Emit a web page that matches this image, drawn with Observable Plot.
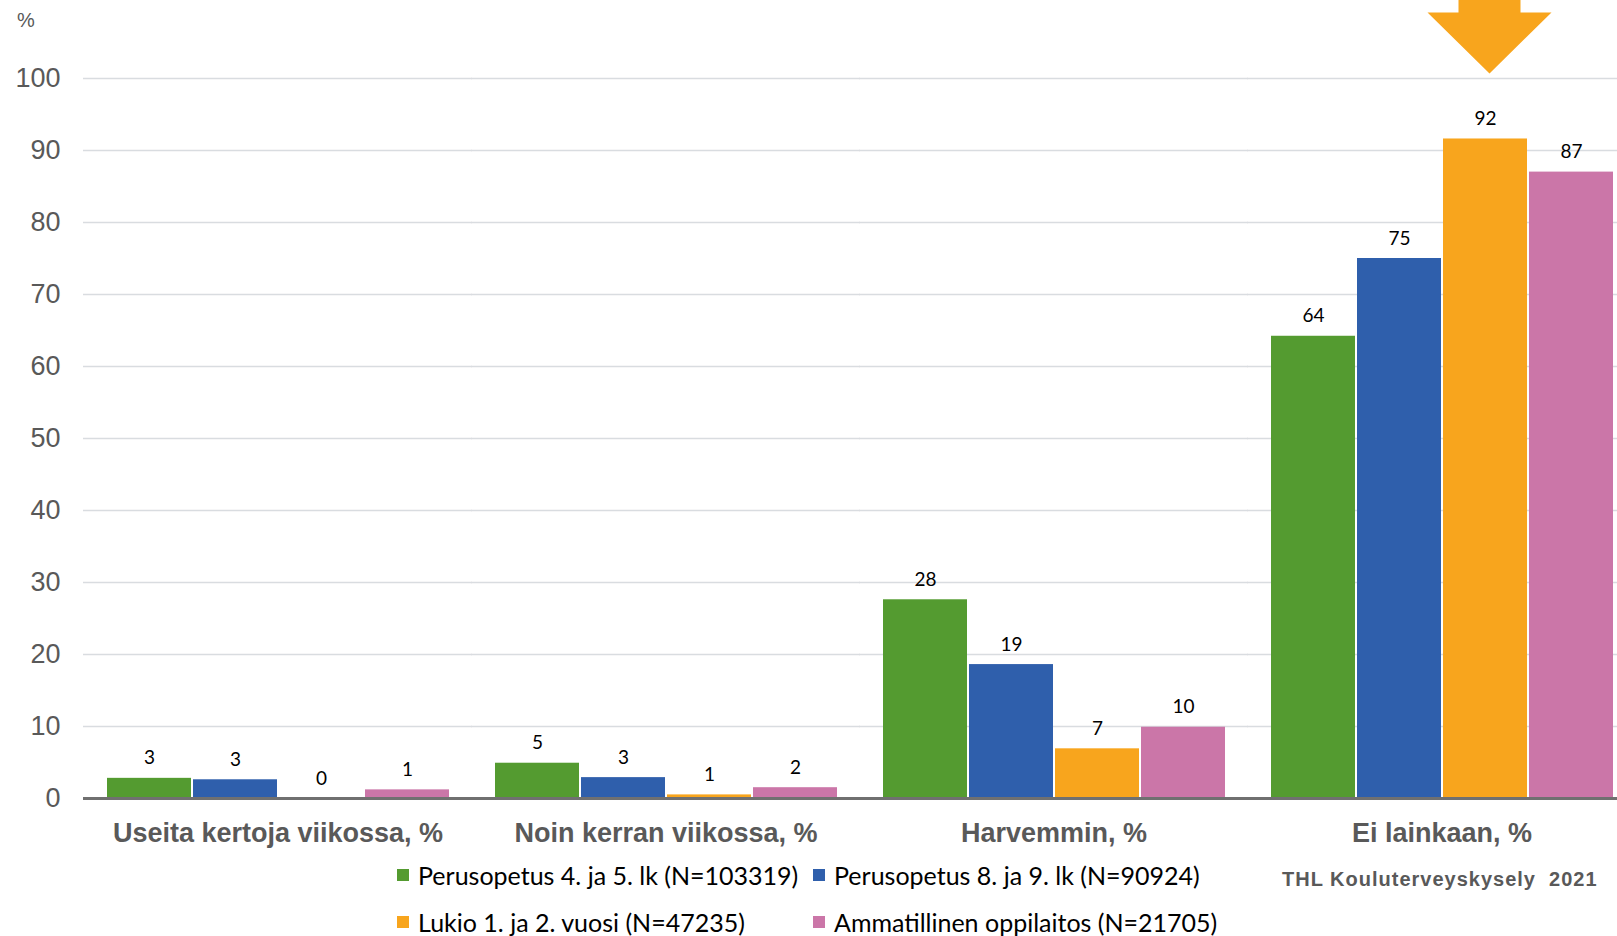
<!DOCTYPE html>
<html><head><meta charset="utf-8">
<script src="https://cdn.jsdelivr.net/npm/d3@7"></script>
<script src="https://cdn.jsdelivr.net/npm/@observablehq/plot@0.6"></script>
<style>
html,body{margin:0;padding:0;background:#fff;overflow:hidden;width:1617px;height:936px}
#wrap{position:relative;width:1617px;height:936px;overflow:hidden}
#chart{position:absolute;left:0;top:0;width:1637px}
#pct{position:absolute;left:17px;top:9px;font:20px "Liberation Sans",Arial,sans-serif;color:#595959}
#legend{position:absolute;left:397px;top:861px;font:25px Lato,"Noto Sans",sans-serif;color:#000}
.item{position:absolute;white-space:nowrap;display:flex;align-items:center;height:28px}
.sw{width:12px;height:12px;margin-right:9px;display:inline-block}
#caption{position:absolute;left:1282px;top:868px;font:bold 20px "Liberation Sans",Arial,sans-serif;letter-spacing:1px;color:#595959;white-space:pre}
</style></head><body>
<div id="wrap">
 <div id="chart"></div>
 <div id="pct">%</div>
 <div id="legend"></div>
 <div id="caption">THL Kouluterveyskysely  2021</div>
</div>
<script>
const categories = ["Useita kertoja viikossa, %", "Noin kerran viikossa, %", "Harvemmin, %", "Ei lainkaan, %"];
const seriesNames = ["Perusopetus 4. ja 5. lk (N=103319)", "Perusopetus 8. ja 9. lk (N=90924)", "Lukio 1. ja 2. vuosi (N=47235)", "Ammatillinen oppilaitos (N=21705)"];
const seriesColors = ["#549b30", "#2f5fac", "#f8a51d", "#cb76a8"];
const perusopetus45 = [2.8, 4.9, 27.6, 64.2];
const perusopetus89 = [2.6, 2.9, 18.6, 75.0];
const lukio = [0, 0.5, 6.9, 91.6];
const ammatillinen = [1.2, 1.5, 9.9, 87.0];
const yTicks = [0, 10, 20, 30, 40, 50, 60, 70, 80, 90, 100];
const highlight = [{category: "Ei lainkaan, %", series: "Lukio 1. ja 2. vuosi (N=47235)", value: 100.7}];

const seriesValues = [perusopetus45, perusopetus89, lukio, ammatillinen];
const data = categories.flatMap((c, i) => seriesNames.map((s, j) => ({category: c, series: s, value: seriesValues[j][i]})));
const gridData = categories.flatMap(c => yTicks.filter(t => t > 0).map(t => ({category: c, tick: t})));
const zeroData = categories.map(c => ({category: c, tick: 0}));

const arrowSymbol = {
  draw(ctx) {
    ctx.moveTo(0, 0);
    ctx.lineTo(-62, -61);
    ctx.lineTo(-31, -61);
    ctx.lineTo(-31, -110);
    ctx.lineTo(31, -110);
    ctx.lineTo(31, -61);
    ctx.lineTo(62, -61);
    ctx.closePath();
  }
};

const chart = Plot.plot({
  width: 1637, height: 860,
  marginLeft: 83, marginRight: 1, marginTop: 78, marginBottom: 62,
  style: {background: "transparent", fontFamily: "'Liberation Sans', Arial, sans-serif", overflow: "visible", maxWidth: "none"},
  y: {domain: [0, 100], ticks: yTicks},
  x: {domain: seriesNames, padding: 0, axis: null},
  fx: {domain: categories, paddingInner: 0.111, paddingOuter: 0.055, label: null},
  color: {domain: seriesNames, range: seriesColors},
  marks: [
    Plot.ruleY(gridData, {fx: "category", y: "tick", stroke: "#d9dce0", strokeWidth: 1.5, insetLeft: -22, insetRight: -22}),
    Plot.axisY({ticks: yTicks, tickSize: 0, tickPadding: 45, fontSize: 27, color: "#595959", label: null}),
    Plot.axisFx({anchor: "bottom", tickSize: 0, tickPadding: 24, fontSize: 27, fontWeight: "bold", color: "#595959", label: null}),
    Plot.barY(data, {fx: "category", x: "series", y: "value", fill: "series", insetLeft: 1, insetRight: 1}),
    Plot.text(data, {fx: "category", x: "series", y: "value", text: d => String(Math.round(d.value)), lineAnchor: "bottom", dy: -14, fontSize: 19, fontFamily: "Lato, 'Noto Sans', sans-serif", fill: "#000"}),
    Plot.ruleY(zeroData, {fx: "category", y: "tick", stroke: "#707070", strokeWidth: 3, insetLeft: -22, insetRight: -22}),
    Plot.dot(highlight, {fx: "category", x: "series", y: "value", symbol: arrowSymbol, r: 1, fill: "#f8a51d", dx: 4})
  ]
});
document.getElementById("chart").appendChild(chart);

const legend = document.getElementById("legend");
const legendPos = [[0, 0], [416, 0], [0, 47], [416, 47]];
seriesNames.forEach((s, i) => {
  const it = document.createElement("div");
  it.className = "item";
  it.style.left = legendPos[i][0] + "px";
  it.style.top = legendPos[i][1] + "px";
  const sw = document.createElement("span");
  sw.className = "sw";
  sw.style.background = seriesColors[i];
  it.appendChild(sw);
  it.appendChild(document.createTextNode(s));
  legend.appendChild(it);
});
</script>
</body></html>
